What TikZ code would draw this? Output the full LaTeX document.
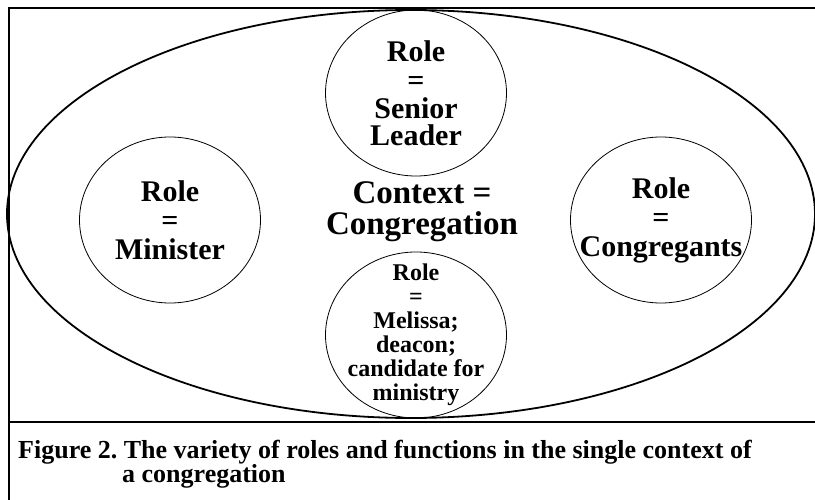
\documentclass[tikz,border=0pt]{standalone}
\usepackage{fontspec}
\setmainfont{Liberation Serif}
\usepackage{tikz}
\usetikzlibrary{shapes.geometric}
\tikzstyle{role} = [ellipse, draw=black, line width=0.8pt, minimum width=181pt, minimum height=166pt, inner sep=-40pt, align=center, font=\bfseries\fontsize{30}{27.5}\selectfont]
\tikzstyle{context} = [ellipse, draw=black, line width=1.8pt, minimum width=808pt, minimum height=408pt, inner sep=0pt]
\tikzstyle{caption} = [anchor=base west, inner sep=0pt, font=\bfseries\fontsize{26}{25}\selectfont]

\begin{document}
\begin{tikzpicture}[x=1pt, y=-1pt]

    \useasboundingbox (0,0) rectangle (815,500);
    \clip (0,0) rectangle (815,500);

    % frame and the line above the caption
    \draw[line width=1.4pt] (9,8) rectangle (840,530);
    \draw[line width=1.6pt] (9,422) -- (840,422);

    \node (congregation) [context] at (411,214) {};
    \node (contextlabel) [align=center, inner sep=0pt, font=\bfseries\fontsize{33}{31}\selectfont] at (422,212) {Context =\\Congregation};

    \node (leader) [role] at (416,93) {Role\\[2pt]=\\Senior\\Leader};

    \node (minister) [role, font=\bfseries\fontsize{30}{29}\selectfont] at (170,220) {Role\\=\\Minister};

    \node (congregants) [role, font=\bfseries\fontsize{30}{29}\selectfont] at (661,220) {Role\\=\\Congregants};

    \node (melissa) [role, font=\bfseries\fontsize{24}{24}\selectfont] at (416,335) {Role\\=\\Melissa;\\deacon;\\candidate for\\ministry};

    % caption under the frame line
    \node (cap) [caption] at (18,458) {Figure 2.\ The variety of roles and functions in the single context of};
    \node (capb) [caption] at (122,482) {a congregation};

\end{tikzpicture}
\end{document}
